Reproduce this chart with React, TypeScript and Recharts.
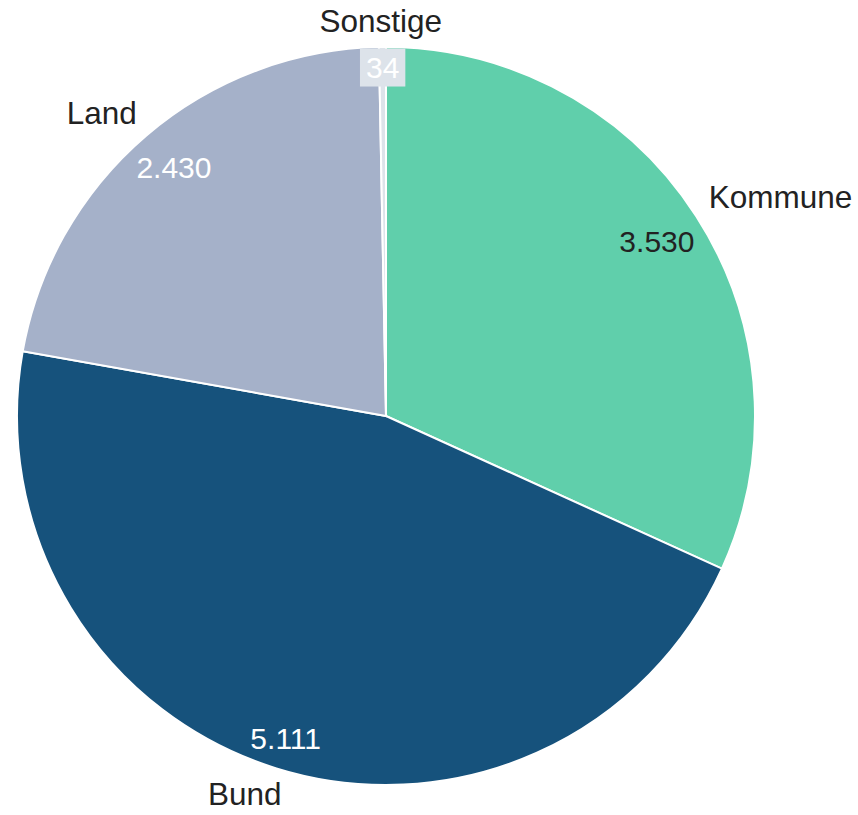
import React from 'react';
import { PieChart, Pie, Cell } from 'recharts';

const categories = ['Kommune', 'Bund', 'Land', 'Sonstige'];
const values = [3530, 5111, 2430, 34];
const sliceColors = ['#60cfab', '#16527c', '#a5b1c9', '#dde3ea'];
const valueTextColors = ['#222222', '#ffffff', '#ffffff', '#ffffff'];

const data = categories.map((name, i) => ({ name, value: values[i] }));

const FONT = '"Liberation Sans", Arial, Helvetica, sans-serif';
const NAME_FS = 31.5;
const VALUE_FS = 30;
const RAD = Math.PI / 180;

const formatDE = (v: number) => String(Math.round(v)).replace(/\B(?=(\d{3})+(?!\d))/g, '.');

let ctx: CanvasRenderingContext2D | null = null;
const measure = (text: string, fs: number) => {
  try {
    if (!ctx) ctx = document.createElement('canvas').getContext('2d');
    if (ctx) {
      ctx.font = `${fs}px ${FONT}`;
      return ctx.measureText(text).width;
    }
  } catch (e) {}
  return text.length * fs * 0.55;
};

const clamp = (v: number) => Math.max(-1, Math.min(1, v));

const renderLabel = (props: any) => {
  const { cx, cy, midAngle, outerRadius, index, percent } = props;
  const dx = Math.cos(-midAngle * RAD);
  const dy = Math.sin(-midAngle * RAD);

  // category name outside the pie
  const capN = NAME_FS * 0.716;
  const name = categories[index];
  const wN = measure(name, NAME_FS);
  const R0 = outerRadius * 1.04;
  const ax = cx + R0 * dx;
  const ay = cy + R0 * dy;
  const nx = ax + clamp(dx / 0.4) * wN / 2;
  const ny = ay + clamp(dy / 0.4) * capN / 2;

  // value inside the pie
  const capV = VALUE_FS * 0.716;
  const vt = formatDE(values[index]);
  const wV = measure(vt, VALUE_FS);
  const R1 = outerRadius * 0.975;
  const b = Math.abs(dx) * wV + Math.abs(dy) * capV;
  const c = (wV * wV + capV * capV) / 4 - R1 * R1;
  const d = (-b + Math.sqrt(b * b - 4 * c)) / 2;
  const vx = cx + d * dx;
  const vy = cy + d * dy;
  const small = percent < 0.01;

  return (
    <g key={`lbl-${index}`}>
      <text
        x={nx}
        y={ny + capN / 2}
        textAnchor="middle"
        fontFamily={FONT}
        fontSize={NAME_FS}
        fill="#222222"
      >
        {name}
      </text>
      {small && (
        <rect
          x={vx - wV / 2 - 6}
          y={vy - 19}
          width={wV + 12}
          height={38}
          fill={sliceColors[index]}
        />
      )}
      <text
        x={vx}
        y={vy + capV / 2}
        textAnchor="middle"
        fontFamily={FONT}
        fontSize={VALUE_FS}
        fill={valueTextColors[index]}
      >
        {vt}
      </text>
    </g>
  );
};

export default function App() {
  return (
    <div style={{ position: 'absolute', left: 0, top: 0, width: 858, height: 815, background: '#ffffff' }}>
      <PieChart width={858} height={815} margin={{ top: 0, right: 0, bottom: 0, left: 0 }}>
        <Pie
          data={data}
          dataKey="value"
          nameKey="name"
          cx={386}
          cy={416}
          outerRadius={369}
          innerRadius={0}
          startAngle={90}
          endAngle={-270}
          stroke="#ffffff"
          strokeWidth={2}
          label={renderLabel}
          labelLine={false}
          isAnimationActive={false}
        >
          {data.map((d, i) => (
            <Cell key={d.name} fill={sliceColors[i]} />
          ))}
        </Pie>
      </PieChart>
    </div>
  );
}
